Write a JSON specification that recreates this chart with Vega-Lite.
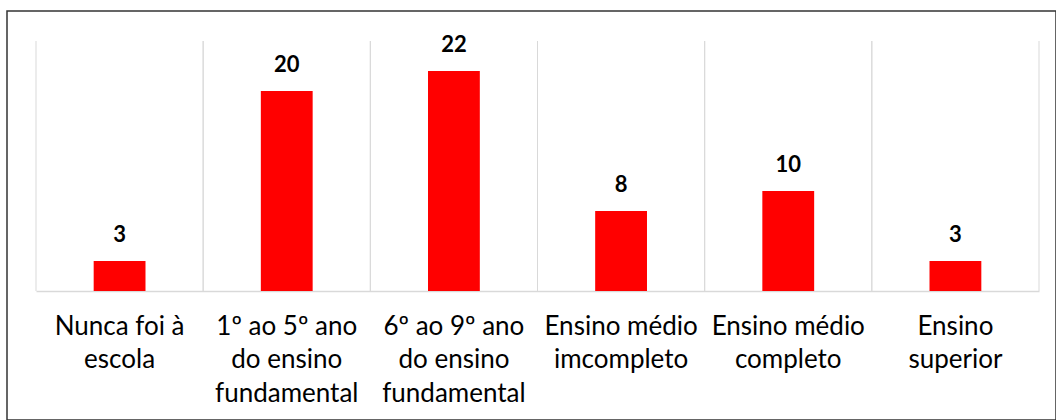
{
  "$schema": "https://vega.github.io/schema/vega-lite/v6.json",
  "width": 1049,
  "height": 409,
  "autosize": {"type": "none"},
  "padding": {"left": 7, "top": 11, "right": 0, "bottom": 0},
  "background": "white",
  "config": {
    "view": {"stroke": "#333333", "strokeWidth": 1.5},
    "font": "Lato"
  },
  "data": {
    "values": [
      {"cat": "Nunca foi à|escola", "value": 3},
      {"cat": "1º ao 5º ano|do ensino|fundamental", "value": 20},
      {"cat": "6º ao 9º ano|do ensino|fundamental", "value": 22},
      {"cat": "Ensino médio|imcompleto", "value": 8},
      {"cat": "Ensino médio|completo", "value": 10},
      {"cat": "Ensino|superior", "value": 3}
    ]
  },
  "layer": [
    {
      "mark": {"type": "rule", "color": "#D9D9D9", "strokeWidth": 1},
      "encoding": {
        "x": {"field": "cat", "type": "nominal", "sort": null, "bandPosition": 0,
          "axis": {"title": null, "orient": "bottom", "offset": -129, "labelExpr": "split(datum.label, '|')", "labelAngle": 0, "labelFont": "Lato", "labelFontSize": 26, "labelColor": "#000000", "labelLineHeight": 33.5, "labelPadding": 22, "labelLimit": 400, "labelOverlap": false, "ticks": false, "grid": false, "domainColor": "#D9D9D9", "domainWidth": 1.5}},
        "y": {"datum": 0, "type": "quantitative", "axis": null},
        "y2": {"datum": 25}
      }
    },
    {
      "mark": {"type": "rule", "color": "#D9D9D9", "strokeWidth": 1},
      "encoding": {
        "x": {"field": "cat", "type": "nominal", "sort": null, "bandPosition": 1,
          "axis": {"title": null, "orient": "bottom", "offset": -129, "labelExpr": "split(datum.label, '|')", "labelAngle": 0, "labelFont": "Lato", "labelFontSize": 26, "labelColor": "#000000", "labelLineHeight": 33.5, "labelPadding": 22, "labelLimit": 400, "labelOverlap": false, "ticks": false, "grid": false, "domainColor": "#D9D9D9", "domainWidth": 1.5}},
        "y": {"datum": 0, "type": "quantitative", "axis": null},
        "y2": {"datum": 25}
      }
    },
    {
      "mark": {"type": "bar", "color": "#FF0000", "width": {"band": 0.31}},
      "encoding": {
        "x": {
          "field": "cat",
          "type": "nominal",
          "sort": null,
          "scale": {"range": [29, 1032], "paddingInner": 0, "paddingOuter": 0},
          "axis": {"title": null, "orient": "bottom", "offset": -129, "labelExpr": "split(datum.label, '|')", "labelAngle": 0, "labelFont": "Lato", "labelFontSize": 26, "labelColor": "#000000", "labelLineHeight": 33.5, "labelPadding": 22, "labelLimit": 400, "labelOverlap": false, "ticks": false, "grid": false, "domainColor": "#D9D9D9", "domainWidth": 1.5}
        },
        "y": {
          "field": "value",
          "type": "quantitative",
          "scale": {"domain": [-12.9, 28.0], "nice": false, "zero": false},
          "axis": null
        },
        "y2": {"datum": 0}
      }
    },
    {
      "mark": {"type": "text", "font": "Lato", "fontWeight": "bold", "fontSize": 22, "color": "#000000", "baseline": "alphabetic", "dy": -19},
      "encoding": {
        "x": {"field": "cat", "type": "nominal", "sort": null,
          "axis": {"title": null, "orient": "bottom", "offset": -129, "labelExpr": "split(datum.label, '|')", "labelAngle": 0, "labelFont": "Lato", "labelFontSize": 26, "labelColor": "#000000", "labelLineHeight": 33.5, "labelPadding": 22, "labelLimit": 400, "labelOverlap": false, "ticks": false, "grid": false, "domainColor": "#D9D9D9", "domainWidth": 1.5}},
        "y": {"field": "value", "type": "quantitative", "axis": null},
        "text": {"field": "value", "type": "quantitative"}
      }
    }
  ]
}
